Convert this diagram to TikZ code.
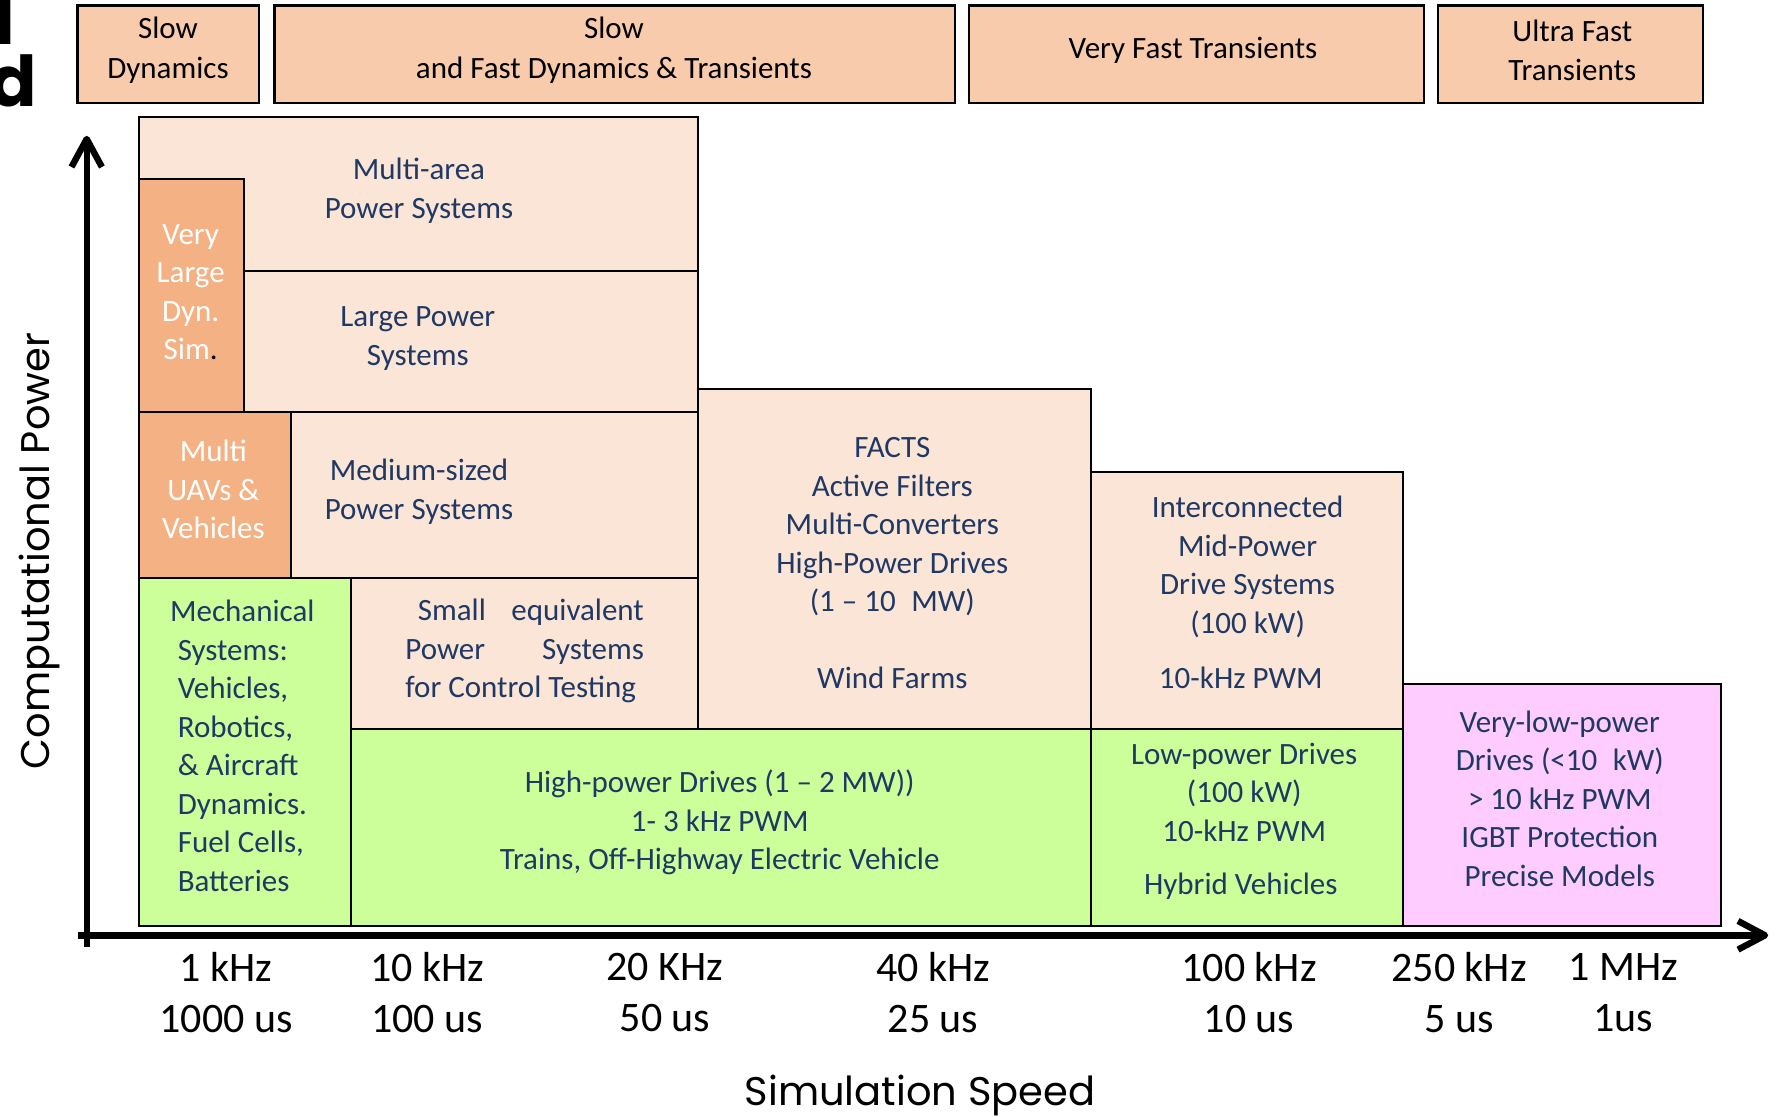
\documentclass[tikz,border=0pt]{standalone}
\usepackage{fontspec}
\setmainfont{Carlito}
\newfontfamily\popfont{Poppins}

\definecolor{bandfill}{HTML}{F8CBAD}
\definecolor{lightfill}{HTML}{FBE5D6}
\definecolor{darkfill}{HTML}{F4B183}
\definecolor{greenfill}{HTML}{CCFF99}
\definecolor{pinkfill}{HTML}{FFCCFF}
\definecolor{navy}{HTML}{1F3864}

\begin{document}
\begin{tikzpicture}[x=0.5pt,y=-0.5pt,
  band/.style={draw=black, line width=1.2pt, fill=bandfill},
  blk/.style={draw=black, line width=1pt},
  lbl/.style={inner sep=0pt, align=center, text=navy, font=\fontsize{15.5}{19.25}\selectfont},
  wlbl/.style={lbl, text=white},
  hdr/.style={inner sep=0pt, align=center, text=black, font=\fontsize{15.5}{19.8}\selectfont},
  ticklbl/.style={inner sep=0pt, align=center, text=black, font=\fontsize{21}{25.5}\selectfont},
  axisline/.style={line width=3.2pt, black},
  axtitle/.style={inner sep=0pt, text=black, font=\popfont\fontsize{20}{24}\selectfont},
  cutlbl/.style={inner sep=0pt, text=black, font=\popfont\bfseries\fontsize{35}{37}\selectfont}]

\useasboundingbox (0,0) rectangle (1780,1117);
\clip (0,0) rectangle (1780,1117);

% trailing letters of the heading, cut by the page edge
\node[cutlbl, anchor=base east] (cutl) at (16,45) {l};
\node[cutlbl, anchor=base east] (cutd) at (37,106.7) {d};

% time-scale bands along the top
\draw[band] (77.5,5.5) rectangle (259,103.3);
\draw[band] (274.5,5.5) rectangle (955,103.3);
\draw[band] (969,5.5) rectangle (1424,103.3);
\draw[band] (1438,5.5) rectangle (1703,103.3);
\node[hdr] (h1) at (168,50.5) {Slow\\Dynamics};
\node[hdr] (h2) at (614,50.5) {Slow\\and Fast Dynamics \& Transients};
\node[hdr] (h3) at (1193,50) {Very Fast Transients};
\node[hdr] (h4) at (1572.3,50.5) {Ultra Fast\\Transients};

% application blocks
\draw[blk, fill=lightfill] (138.5,117) rectangle (698,271);
\draw[blk, fill=lightfill] (244,271) rectangle (698,412);
\draw[blk, fill=darkfill] (138.5,179) rectangle (244,412);
\draw[blk, fill=lightfill] (290.6,412) rectangle (698,578);
\draw[blk, fill=darkfill] (138.5,412) rectangle (290.6,578);
\draw[blk, fill=greenfill] (138.5,578) rectangle (350.8,925.7);
\draw[blk, fill=lightfill] (350.8,578) rectangle (698,729);
\draw[blk, fill=lightfill] (698,389.4) rectangle (1091,729);
\draw[blk, fill=lightfill] (1091,471.5) rectangle (1403,729);
\draw[blk, fill=greenfill] (350.8,729) rectangle (1091,925.7);
\draw[blk, fill=greenfill] (1091,729) rectangle (1403,925.7);
\draw[blk, fill=pinkfill] (1403,684) rectangle (1721,925.7);

% block labels
\node[lbl] (multiarea) at (419,190.7) {Multi-area\\Power Systems};
\node[wlbl] (vlarge) at (190.7,292) {Very\\Large\\Dyn.\\Sim{\color{black}.}};
\node[lbl] (large) at (417.8,338.8) {Large Power\\Systems};
\node[wlbl] (uavs) at (213.4,489.7) {Multi\\UAVs \&\\Vehicles};
\node[lbl] (medium) at (419,491.6) {Medium-sized\\Power Systems};
\node[lbl, align=left, anchor=west] (mech) at (169.7,745.8)
  {Mechanical\\\hspace*{3.85pt}Systems:\\\hspace*{3.85pt}Vehicles,\\\hspace*{3.85pt}Robotics,\\\hspace*{3.85pt}\& Aircraft\\\hspace*{3.85pt}Dynamics.\\\hspace*{3.85pt}Fuel Cells,\\\hspace*{3.85pt}Batteries};
\node[lbl, align=left, anchor=west] (smalleq) at (405,651.2)
  {\hbox to 119.25pt{\hspace*{6.2pt}Small\hfill equivalent}\\\hbox to 119.25pt{Power\hfill Systems}\\for Control Testing};
\node[lbl] (facts) at (892.3,563.5)
  {FACTS\\Active Filters\\Multi-Converters\\High-Power Drives\\(1 – 10\enspace MW)\\[19.25pt]Wind Farms};
\node[lbl] (inter) at (1247.6,567) {Interconnected\\Mid-Power\\Drive Systems\\(100 kW)};
\node[lbl] (interpwm) at (1240.8,677.7) {10-kHz PWM};
\node[lbl] (highp) at (719.7,822.8) {High-power Drives (1 – 2 MW))\\1- 3 kHz PWM\\Trains, Off-Highway Electric Vehicle};
\node[lbl] (lowp) at (1244.2,792.4) {Low-power Drives\\(100 kW)\\10-kHz PWM};
\node[lbl] (hybrid) at (1240.8,886.6) {Hybrid Vehicles};
\node[lbl] (vlowp) at (1559.8,798.7) {Very-low-power\\Drives (<10\enspace kW)\\> 10 kHz PWM\\IGBT Protection\\Precise Models};

% axes
\coordinate (yfoot) at (86.7,946.7);
\coordinate (ytip) at (86.7,139);
\coordinate (xfoot) at (78.3,935.3);
\coordinate (xtip) at (1765,935.3);
\draw[axisline] (yfoot) -- (ytip);
\draw[axisline] (xfoot) -- (xtip);
\draw[axisline, line join=round] ([shift={(-15.2,28)}]ytip) -- (ytip) -- ([shift={(15.2,28)}]ytip);
\draw[axisline, line join=round] ([shift={(-27,-14.3)}]xtip) -- (xtip) -- ([shift={(-27,14.3)}]xtip);

% axis titles
\node[axtitle, rotate=90] (ytitle) at (39,551) {Computational Power};
\node[axtitle] (xtitle) at (920,1095) {Simulation Speed};

% step sizes along the speed axis
\node[ticklbl] (t1) at (226,992.7) {1 kHz\\1000 us};
\node[ticklbl] (t2) at (427,992.7) {10 kHz\\100 us};
\node[ticklbl] (t3) at (665,992.7) {20 KHz\\50 us};
\node[ticklbl] (t4) at (933,992.7) {40 kHz\\25 us};
\node[ticklbl] (t5) at (1249,992.7) {100 kHz\\10 us};
\node[ticklbl] (t6) at (1459,992.7) {250 kHz\\5 us};
\node[ticklbl] (t7) at (1623,992.7) {1 MHz\\1us};
\end{tikzpicture}
\end{document}
